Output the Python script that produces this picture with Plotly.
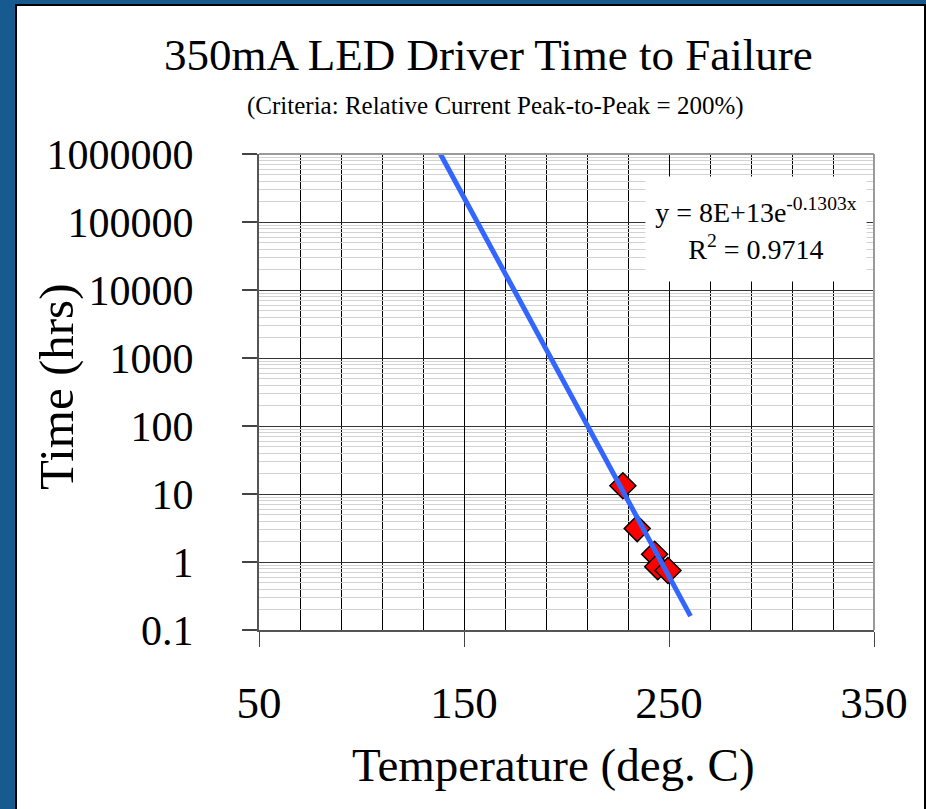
import plotly.graph_objects as go

# Measured failure data (temperature in deg C, time in hrs)
temp_c = [227.5, 234.5, 243.0, 244.5, 249.5]
time_hrs = [13.2, 3.1, 1.3, 0.85, 0.75]

# Exponential trendline (straight on log scale), endpoints
trend_x = [138.5, 260.5]
trend_y = [1000000, 0.16]

# Axis ticks
x_ticks = [50, 150, 250, 350]
y_ticks = [0.1, 1, 10, 100, 1000, 10000, 100000, 1000000]
y_ticklabels = ["0.1", "1", "10", "100", "1000", "10000", "100000", "1000000"]
y_minor = [m * 10 ** e for e in range(-1, 6) for m in range(2, 10)]

FONT = "Liberation Serif"
W, H = 926, 809
L, R, T, B = 259, 874, 154, 630

def px(x):
    return (x - L) / (R - L)

def py(y):
    return (B - y) / (B - T)

fig = go.Figure()
fig.add_trace(go.Scatter(
    x=temp_c, y=time_hrs, mode="markers",
    marker=dict(symbol="diamond", size=20, color="#ff0000",
                line=dict(color="black", width=1.5)),
    showlegend=False, hoverinfo="x+y"))
fig.add_trace(go.Scatter(
    x=trend_x, y=trend_y, mode="lines",
    line=dict(color="#3366ff", width=5),
    showlegend=False, hoverinfo="skip"))

fig.update_layout(
    width=W, height=H,
    margin=dict(l=L, r=W - R, t=T, b=H - B, pad=0),
    paper_bgcolor="#175a90",
    plot_bgcolor="white",
    font=dict(family=FONT, color="black"),
    showlegend=False,
    xaxis=dict(
        range=[50, 350], tickmode="array", tickvals=x_ticks,
        ticks="outside", ticklen=15, tickcolor="#444", tickwidth=1,
        tickfont=dict(size=45, family=FONT, color="black"),
        ticklabelstandoff=17,
        showgrid=True, gridcolor="black", gridwidth=1,
        minor=dict(dtick=20, tick0=50, showgrid=True, gridcolor="black", gridwidth=1),
        showline=True, linecolor="#555", linewidth=2, mirror=False,
        zeroline=False),
    yaxis=dict(
        type="log", range=[-1, 6], tickmode="array", tickvals=y_ticks,
        ticktext=y_ticklabels,
        ticks="outside", ticklen=15, tickcolor="#444", tickwidth=2,
        tickfont=dict(size=42, family=FONT, color="black"),
        ticklabelstandoff=40,
        showgrid=True, gridcolor="#333", gridwidth=1,
        minor=dict(tickmode="array", tickvals=y_minor, showgrid=True,
                   gridcolor="#d2d2d2", gridwidth=1),
        showline=True, linecolor="#555", linewidth=2, mirror=False,
        zeroline=False),
    shapes=[
        dict(type="rect", xref="paper", yref="paper", layer="below",
             x0=px(16), x1=px(925), y0=py(812), y1=py(5),
             fillcolor="white", line=dict(color="black", width=2)),
        dict(type="line", xref="paper", yref="paper", x0=0, x1=1, y0=1, y1=1,
             line=dict(color="#9a9a9a", width=2)),
        dict(type="line", xref="paper", yref="paper", x0=1, x1=1, y0=0, y1=1,
             line=dict(color="#9a9a9a", width=2)),
    ],
    annotations=[
        dict(text="350mA LED Driver Time to Failure", xref="paper", yref="paper",
             x=px(488), y=py(55), xanchor="center", yanchor="middle",
             showarrow=False, font=dict(size=45, family=FONT)),
        dict(text="(Criteria: Relative Current Peak-to-Peak = 200%)", xref="paper", yref="paper",
             x=px(495), y=py(106), xanchor="center", yanchor="middle",
             showarrow=False, font=dict(size=25, family=FONT)),
        dict(text="Time (hrs)", xref="paper", yref="paper", textangle=-90,
             x=px(56), y=py(387), xanchor="center", yanchor="middle",
             showarrow=False, font=dict(size=49, family=FONT)),
        dict(text="Temperature (deg. C)", xref="paper", yref="paper",
             x=px(553), y=py(765), xanchor="center", yanchor="middle",
             showarrow=False, font=dict(size=47, family=FONT)),
        dict(text="y = 8E+13e<sup>-0.1303x</sup><br>R<sup>2</sup> = 0.9714",
             xref="paper", yref="paper", x=px(756), y=py(229),
             xanchor="center", yanchor="middle", align="center",
             width=206, height=90,
             showarrow=False, bgcolor="white", borderpad=7,
             font=dict(size=28, family=FONT)),
    ],
)

fig.write_html("out.html")
